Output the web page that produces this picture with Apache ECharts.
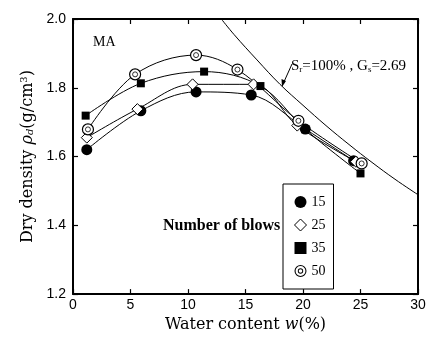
<!DOCTYPE html>
<html>
<head>
<meta charset="utf-8">
<script src="https://cdn.jsdelivr.net/npm/echarts@6/dist/echarts.min.js"></script>
<style>
html, body { margin: 0; padding: 0; background: #fff; }
#chart { width: 438px; height: 338px; }
</style>
</head>
<body>
<div id="chart"></div>
<script>
// water content (%) and dry density (g/cm3) per number of blows
var w15 = [1.2, 5.9, 10.7, 15.5, 20.2, 24.4];
var d15 = [1.620, 1.733, 1.788, 1.779, 1.680, 1.588];
var w25 = [1.2, 5.6, 10.4, 15.7, 19.5, 24.6];
var d25 = [1.655, 1.738, 1.810, 1.810, 1.690, 1.585];
var w35 = [1.1, 5.9, 11.4, 16.3, 20.2, 25.0];
var d35 = [1.719, 1.813, 1.847, 1.805, 1.679, 1.551];
var w50 = [1.3, 5.4, 10.7, 14.3, 19.6, 25.1];
var d50 = [1.679, 1.839, 1.895, 1.853, 1.704, 1.580];
// zero air voids line, Sr=100%, Gs=2.69
var wSat = [12.9, 14, 16, 18, 20, 22, 24, 26, 28, 30];
var dSat = [2.00, 1.955, 1.881, 1.81, 1.749, 1.69, 1.635, 1.583, 1.534, 1.489];
var xTicks = { min: 0, max: 30, step: 5 };
var yTicks = { min: 1.2, max: 2.0, step: 0.2 };

function pairs(xs, ys) {
  return xs.map(function (x, i) { return [x, ys[i]]; });
}

var serif = 'Liberation Serif';
var wide = 'DejaVu Serif';
var sans = 'Liberation Sans';
var dblCircle = 'path://M0,10a10,10 0 1,0 20,0a10,10 0 1,0 -20,0Z M1.8,10a8.2,8.2 0 1,1 16.4,0a8.2,8.2 0 1,1 -16.4,0Z M5.5,10a4.5,4.5 0 1,0 9,0a4.5,4.5 0 1,0 -9,0Z M7,10a3,3 0 1,1 6,0a3,3 0 1,1 -6,0Z';

var myChart = echarts.init(document.getElementById('chart'));

function baseX(pos, show) {
  return {
    type: 'value', position: pos,
    min: xTicks.min, max: xTicks.max, interval: xTicks.step,
    axisLine: { show: true, onZero: false, lineStyle: { color: '#000', width: 2 } },
    axisTick: { show: true, inside: true, length: 5, lineStyle: { color: '#000', width: 1.2 } },
    axisLabel: { show: show, color: '#000', fontFamily: sans, fontSize: 14, margin: 4 },
    splitLine: { show: false }
  };
}
function baseY(pos, show) {
  return {
    type: 'value', position: pos,
    min: yTicks.min, max: yTicks.max, interval: yTicks.step,
    axisLine: { show: true, onZero: false, lineStyle: { color: '#000', width: 2 } },
    axisTick: { show: true, inside: true, length: 5, lineStyle: { color: '#000', width: 1.2 } },
    axisLabel: { show: show, color: '#000', fontFamily: sans, fontSize: 14, margin: 7,
      formatter: function (v) { return v.toFixed(1); } },
    splitLine: { show: false }
  };
}

var xMain = baseX('bottom', true);
xMain.name = 'Water content {i|w}(%)';
xMain.nameLocation = 'middle';
xMain.nameGap = 19;
xMain.nameTextStyle = { color: '#000', fontFamily: wide, fontSize: 16,
  rich: { i: { fontFamily: wide, fontSize: 16, fontStyle: 'italic', color: '#000' } } };

var yMain = baseY('left', true);
yMain.name = 'Dry density {i|ρ}{sub|d}(g/cm{sup|3})';
yMain.nameLocation = 'middle';
yMain.nameRotate = 90;
yMain.nameGap = 36;
yMain.nameTextStyle = { color: '#000', fontFamily: wide, fontSize: 16,
  rich: {
    i: { fontFamily: wide, fontSize: 16, fontStyle: 'italic', color: '#000' },
    sub: { fontFamily: wide, fontSize: 10, fontStyle: 'italic', verticalAlign: 'bottom', padding: [6, 0, 0, 0], color: '#000' },
    sup: { fontFamily: wide, fontSize: 10, verticalAlign: 'top', padding: [0, 0, 6, 0], color: '#000' }
  } };

function curve(name, data, symbol, size, style) {
  return {
    name: name, type: 'line', data: data, smooth: 0.35,
    symbol: symbol, symbolSize: size, showSymbol: true,
    lineStyle: { color: '#000', width: 1 },
    itemStyle: style, z: 3
  };
}

var option = {
  animation: false,
  backgroundColor: '#fff',
  grid: { left: 73, right: 20, top: 19, bottom: 41, containLabel: false },
  xAxis: [xMain, baseX('top', false)],
  yAxis: [yMain, baseY('right', false)],
  legend: {
    orient: 'vertical', left: 283, top: 184,
    padding: [11, 8, 11, 11],
    itemWidth: 12, itemHeight: 12, itemGap: 9, itemTextGap: 10,
    borderColor: '#000', borderWidth: 1, backgroundColor: '#fff',
    textStyle: { color: '#000', fontFamily: serif, fontSize: 14 },
    data: [
      { name: '15', icon: 'circle', itemStyle: { color: '#000', borderWidth: 0 } },
      { name: '25', icon: 'diamond', itemStyle: { color: '#fff', borderColor: '#000', borderWidth: 1 } },
      { name: '35', icon: 'rect', itemStyle: { color: '#000', borderWidth: 0 } },
      { name: '50', icon: dblCircle, itemStyle: { color: '#000', borderWidth: 0 } }
    ]
  },
  series: [
    {
      type: 'line', data: pairs(wSat, dSat), smooth: 0.4, symbol: 'none',
      lineStyle: { color: '#000', width: 1 }, silent: true, z: 2
    },
    curve('15', pairs(w15, d15), 'circle', 11, { color: '#000' }),
    curve('25', pairs(w25, d25), 'diamond', 11, { color: '#fff', borderColor: '#000', borderWidth: 1 }),
    curve('35', pairs(w35, d35), 'rect', 8, { color: '#000' }),
    curve('50', pairs(w50, d50), 'circle', 11, { color: '#fff', borderColor: '#000', borderWidth: 1.2 }),
    {
      type: 'scatter', data: pairs(w50, d50), symbol: 'circle', symbolSize: 5,
      itemStyle: { color: '#fff', borderColor: '#000', borderWidth: 1 }, z: 4, silent: true
    }
  ],
  graphic: [
    { type: 'text', left: 93, top: 35,
      style: { text: 'MA', fontFamily: serif, fontSize: 14, fill: '#000' } },
    { type: 'text', left: 163, top: 218,
      style: { text: 'Number of blows', fontFamily: serif, fontSize: 16, fontWeight: 'bold', fill: '#000' } },
    { type: 'text', left: 291, top: 59,
      style: {
        text: 'S{s|r}=100% , G{s|s}=2.69',
        fontFamily: serif, fontSize: 15, fill: '#000',
        rich: { s: { fontFamily: serif, fontSize: 9, verticalAlign: 'bottom', padding: [5, 0, 0, 0] } }
      } },
    { type: 'line', shape: { x1: 292, y1: 64, x2: 283, y2: 84 },
      style: { stroke: '#000', lineWidth: 1 } },
    { type: 'polygon', shape: { points: [[282, 87], [281.5, 79], [286, 81]] },
      style: { fill: '#000' } }
  ]
};

myChart.setOption(option);
window.addEventListener('resize', function () {
  myChart.resize();
});
</script>
</body>
</html>
